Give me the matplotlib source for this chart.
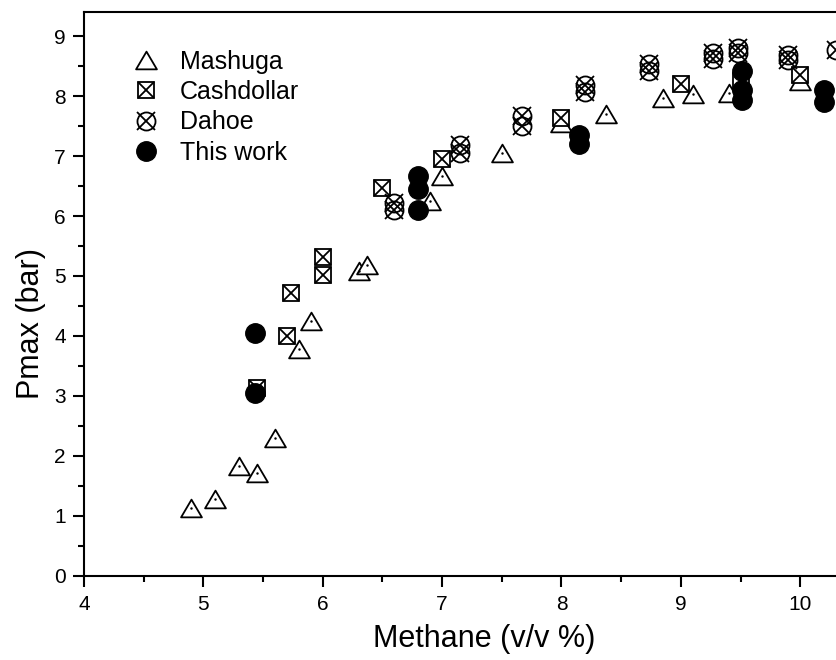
import matplotlib
matplotlib.use("Agg")
import matplotlib.pyplot as plt
from matplotlib.legend_handler import HandlerTuple
from matplotlib.ticker import MultipleLocator
from matplotlib.path import Path

plt.rcParams['font.family'] = ['Liberation Sans', 'DejaVu Sans']

# Mashuga (triangles)
mash_x = [4.9, 5.1, 5.3, 5.45, 5.6, 5.8, 5.9, 6.3, 6.37, 6.9, 7.0, 7.5, 8.0, 8.37, 8.85, 9.1, 9.4, 10.0]
mash_y = [1.13, 1.28, 1.83, 1.72, 2.3, 3.78, 4.25, 5.08, 5.18, 6.25, 6.67, 7.05, 7.55, 7.7, 7.97, 8.03, 8.05, 8.25]

# Cashdollar (square with cross)
cash_x = [5.45, 5.7, 5.73, 6.0, 6.0, 6.5, 7.0, 8.0, 9.0, 9.5, 10.0]
cash_y = [3.13, 4.0, 4.72, 5.02, 5.32, 6.47, 6.95, 7.63, 8.2, 8.25, 8.35]

# Dahoe (circle with cross)
dahoe_x = [6.6, 6.6, 7.15, 7.15, 7.67, 7.67, 8.2, 8.2, 8.73, 8.73, 9.27, 9.27, 9.48, 9.48, 9.9, 9.9, 10.3]
dahoe_y = [6.22, 6.1, 7.18, 7.05, 7.67, 7.5, 8.18, 8.07, 8.53, 8.42, 8.72, 8.62, 8.8, 8.72, 8.68, 8.6, 8.77]

# This work (filled circles)
this_x = [5.43, 5.43, 6.8, 6.8, 6.8, 8.15, 8.15, 9.51, 9.51, 9.51, 10.2, 10.2]
this_y = [4.05, 3.05, 6.67, 6.45, 6.1, 7.35, 7.2, 8.42, 8.1, 7.93, 8.1, 7.9]

# slightly flattened open triangle like the original
tri_marker = Path([(0, 0.85), (-1, -0.85), (1, -0.85), (0, 0.85)],
                  [Path.MOVETO, Path.LINETO, Path.LINETO, Path.CLOSEPOLY])

fig = plt.figure(figsize=(8.36, 6.6), dpi=100)
ax = fig.add_axes([0.1005, 0.1273, 0.8995, 0.8545])

lw = 1.3
tri = ax.plot(mash_x, mash_y, ls='none', marker=tri_marker, ms=15, mfc='white', mec='black', mew=lw, zorder=2)[0]
ax.plot(mash_x, mash_y, ls='none', marker='.', ms=1.5, color='black', zorder=2)

sq = ax.plot(cash_x, cash_y, ls='none', marker='s', ms=11.5, mfc='white', mec='black', mew=lw, zorder=3)[0]
sqx = ax.plot(cash_x, cash_y, ls='none', marker='x', ms=11.5, mec='black', mew=lw, zorder=3)[0]

ci = ax.plot(dahoe_x, dahoe_y, ls='none', marker='o', ms=13, mfc='none', mec='black', mew=lw, zorder=4)[0]
cix = ax.plot(dahoe_x, dahoe_y, ls='none', marker='x', ms=13, mec='black', mew=lw, zorder=4)[0]

dot = ax.plot(this_x, this_y, ls='none', marker='o', ms=14, color='black', zorder=5)[0]

ax.set_xlim(4, 10.3)
ax.set_ylim(0, 9.4)
ax.xaxis.set_major_locator(MultipleLocator(1))
ax.xaxis.set_minor_locator(MultipleLocator(0.5))
ax.yaxis.set_major_locator(MultipleLocator(1))
ax.yaxis.set_minor_locator(MultipleLocator(0.5))
ax.tick_params(which='major', direction='out', length=8, width=1.5, labelsize=15)
ax.tick_params(which='minor', direction='out', length=4, width=1.5)
ax.tick_params(axis='x', which='major', pad=6)
ax.tick_params(axis='y', which='major', pad=5)
ax.spines['right'].set_visible(False)
for s in ['left', 'bottom', 'top']:
    ax.spines[s].set_linewidth(1.5)

# the original axis runs past the cropped edge, so the titles sit off-centre
ax.set_xlabel('Methane (v/v %)', fontsize=22, labelpad=7, x=0.532)
ax.set_ylabel('Pmax (bar)', fontsize=22, labelpad=6, y=0.447)

ax.legend([tri, (sq, sqx), (ci, cix), dot], ['Mashuga', 'Cashdollar', 'Dahoe', 'This work'],
          handler_map={tuple: HandlerTuple(ndivide=1, pad=0)},
          loc='upper left', bbox_to_anchor=(0.0625, 0.933), frameon=False,
          borderpad=0, borderaxespad=0,
          fontsize=18, handlelength=1.2, handletextpad=0.76, labelspacing=0.25)

fig.savefig('out.png', dpi=100)
